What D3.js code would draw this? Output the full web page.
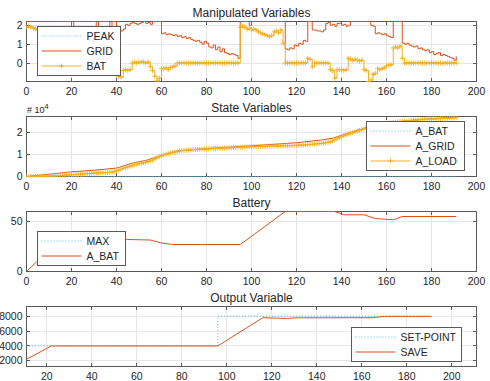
<!DOCTYPE html>
<html>
<head>
<meta charset="utf-8">
<script src="https://cdn.jsdelivr.net/npm/d3@7"></script>
<style>
  body { margin: 0; background: #fff; }
  text { font-family: "Liberation Sans", Arial, sans-serif; fill: #262626; }
</style>
</head>
<body>
<script>
// samples 0..191
const time = d3.range(0, 192);

// Manipulated Variables
const peakT = [0, 191];
const peak = [2.2, 2.2];
const gridP = [
  2.2, 2.2, 2.2, 2.2, 2.2, 2.2, 2.2, 2.2, 2.2, 2.2,
  2.2, 2.2, 2.2, 2.2, 2.2, 2.2, 2.2, 2.2, 2.2, 2.2,
  1.6, 2.2, 2.2, 2.2, 2.2, 2.2, 2.2, 2.2, 2.2, 2.2,
  2.2, 1.7, 2.2, 2.2, 2.2, 2.2, 2.2, 1.8, 2.2, 2.2,
  1.95, 1.75, 1.7, 1.8, 2.05, 2.0, 2.1, 2.15, 2.1, 2.05,
  2.1, 2.15, 2.2, 2.1, 2.15, 2.05, 2.2, 2.2, 2.2, 2.2,
  1.55, 1.6, 1.5, 1.55, 1.5, 1.45, 1.5, 1.4, 1.45, 1.35,
  1.4, 1.3, 1.35, 1.25, 1.2, 1.15, 1.2, 1.1, 1.0, 1.15,
  1.05, 0.85, 0.8, 0.95, 0.7, 0.85, 0.6, 0.75, 0.55, 0.5,
  0.45, 0.5, 0.45, 0.4, 0.25, 2.2, 2.2, 2.2, 2.2, 2.0,
  2.2, 2.2, 2.2, 2.2, 2.2, 2.2, 2.2, 2.2, 2.2, 2.2,
  2.2, 2.2, 2.2, 2.2, 2.2, 0.75, 0.7, 0.8, 0.75, 0.95,
  0.9, 1.05, 1.0, 1.2, 1.15, 2.2, 2.2, 1.75, 1.75, 1.7,
  1.7, 1.65, 1.75, 2.1, 2.15, 2.0, 2.05, 1.95, 2.1, 2.1,
  2.0, 2.05, 1.95, 2.0, 2.2, 2.2, 2.2, 2.2, 2.2, 2.2,
  2.2, 2.2, 2.2, 2.0, 1.95, 1.55, 1.6, 1.55, 1.5, 1.55,
  1.45, 1.4, 1.35, 2.2, 2.2, 2.2, 2.2, 1.05, 1.0, 1.05,
  0.95, 0.9, 0.85, 0.9, 0.75, 0.8, 0.7, 0.65, 0.7, 0.55,
  0.6, 0.45, 0.5, 0.55, 0.4, 0.45, 0.4, 0.35, 0.3, 0.25,
  0.15, 0.35
];
const batP = [
  1.9, 1.95, 1.9, 1.85, 1.8, 1.8, 1.75, 1.7, 1.7, 1.6,
  1.5, 1.45, 1.4, 1.3, 1.2, 1.1, 1.0, 0.9, 0.8, 0.7,
  1.2, 0.6, 0.5, 0.45, 0.4, 0.3, 0.25, 0.2, 0.1, 0.05,
  0.0, 0.5, -0.1, -0.15, -0.2, -0.25, -0.3, 0.2, -0.4, -0.45,
  -0.5, -0.72, -0.75, -0.4, -0.35, -0.4, -0.35, 0.0, 0.05, 0.0,
  0.05, 0.05, 0.05, 0.0, 0.05, -0.2, -0.4, -0.7, -0.95, -0.8,
  -0.3, -0.3, -0.25, -0.35, -0.25, -0.2, -0.15, 0, 0, 0,
  0, 0, 0, 0, 0, 0, 0, 0, 0, 0,
  0, 0, 0, 0, 0, 0, 0, 0, 0, 0,
  0, 0, 0, 0, 0, 1.9, 1.95, 1.9, 1.8, 1.85,
  1.75, 1.8, 1.75, 1.65, 1.6, 1.55, 1.5, 1.45, 1.4, 1.45,
  1.65, 1.7, 1.6, 1.75, 1.05, 0, 0, 0, 0, 0,
  0, 0, 0, 0, 0, 0.25, 0.2, -0.2, 0, 0,
  0, 0, 0, 0, 0, -0.35, -0.4, -0.8, -0.35, -0.35,
  -0.35, -0.4, -0.35, 0.25, 0.2, 0.15, 0.2, 0.15, 0.1, 0.15,
  -0.35, -0.4, -0.98, -0.9, -0.6, -0.55, -0.3, -0.35, -0.3, -0.25,
  -0.15, -0.1, -0.1, 0.8, 0.85, 0.8, 0.9, 0.25, 0, 0,
  0, 0, 0, 0, 0, 0, 0, 0, 0, 0,
  0, 0, 0, 0, 0, 0, 0, 0, 0, 0,
  0, 0
];

// State Variables, in units of 10^4
const aLoad = [
  0, 0.002, 0.004, 0.006, 0.008, 0.01, 0.012, 0.014, 0.016, 0.018,
  0.02, 0.025, 0.03, 0.035, 0.04, 0.045, 0.05, 0.06, 0.07, 0.075,
  0.08, 0.085, 0.09, 0.1, 0.105, 0.11, 0.12, 0.13, 0.135, 0.14,
  0.15, 0.155, 0.16, 0.165, 0.17, 0.175, 0.18, 0.19, 0.2, 0.22,
  0.25, 0.29, 0.33, 0.37, 0.4, 0.43, 0.46, 0.49, 0.52, 0.55,
  0.58, 0.6, 0.62, 0.64, 0.67, 0.7, 0.74, 0.79, 0.84, 0.89,
  0.93, 0.97, 1.0, 1.03, 1.06, 1.08, 1.1, 1.12, 1.14, 1.16,
  1.17, 1.18, 1.19, 1.2, 1.21, 1.215, 1.22, 1.225, 1.23, 1.235,
  1.24, 1.245, 1.25, 1.255, 1.26, 1.265, 1.27, 1.275, 1.28, 1.285,
  1.29, 1.295, 1.3, 1.305, 1.31, 1.315, 1.32, 1.325, 1.33, 1.335,
  1.34, 1.343, 1.346, 1.349, 1.352, 1.355, 1.358, 1.361, 1.364, 1.367,
  1.37, 1.373, 1.376, 1.379, 1.382, 1.385, 1.388, 1.391, 1.394, 1.397,
  1.4, 1.407, 1.414, 1.421, 1.428, 1.435, 1.442, 1.451, 1.461, 1.47,
  1.48, 1.49, 1.5, 1.52, 1.54, 1.56, 1.6, 1.65, 1.7, 1.75,
  1.79, 1.83, 1.87, 1.91, 1.95, 1.98, 2.01, 2.04, 2.08, 2.11,
  2.14, 2.17, 2.2, 2.23, 2.26, 2.28, 2.3, 2.32, 2.34, 2.36,
  2.38, 2.4, 2.42, 2.44, 2.45, 2.46, 2.47, 2.48, 2.49, 2.5,
  2.51, 2.52, 2.53, 2.54, 2.55, 2.56, 2.565, 2.57, 2.575, 2.58,
  2.585, 2.59, 2.595, 2.6, 2.605, 2.61, 2.615, 2.62, 2.625, 2.63,
  2.635, 2.64
];
const aGridT = [0, 10, 20, 30, 40, 48, 53, 60, 67, 80, 100, 120, 131, 136, 140, 150, 160, 170, 180, 191];
const aGrid = [0, 0.1, 0.21, 0.28, 0.38, 0.63, 0.72, 0.95, 1.15, 1.26, 1.38, 1.52, 1.64, 1.72, 1.85, 2.17, 2.4, 2.52, 2.6, 2.68];

// Battery
const batT = [0, 5, 16, 40, 45, 55, 60, 65, 95, 115, 137, 141, 150, 155, 163, 167, 191];
const batLevel = [0, 10.7, 34, 34, 32, 31.5, 28.5, 27, 27, 60, 60, 56.7, 56.7, 53, 51.7, 55, 55];
const maxT = [0, 191];
const maxLevel = [60, 60];

// Output Variable
const setPointT = [0, 96, 191];
const setPoint = [4000, 8000, 8000];
const saveT = [0, 22, 96, 116, 127, 130, 165, 170, 191];
const save = [400, 4000, 4000, 7790, 7700, 7780, 7800, 7980, 7980];

const BLUE = '#4DBEEE', RED = '#D95319', YEL = '#EDB120';

const width = 490, height = 381;
const left = 26.5, right = 476.5, plotH = 60;

let svg = d3.select('body').append('svg')
    .attr('width', width)
    .attr('height', height);

function px(v) { return Math.round(v - 0.5) + 0.5; }

// one axes box like matlab subplot
function makeAxes(cfg, id) {
    let x = d3.scaleLinear().domain(cfg.xDomain).range([left, right]);
    let y = d3.scaleLinear().domain(cfg.yDomain).range([cfg.top + plotH, cfg.top]);
    let g = svg.append('g');
    let bottom = cfg.top + plotH;

    svg.append('clipPath').attr('id', id)
        .append('rect')
        .attr('x', left).attr('y', cfg.top - 1)
        .attr('width', right - left).attr('height', plotH + 2);

    // grid
    g.append('g').selectAll('line').data(cfg.xTicks).join('line')
        .attr('x1', d => px(x(d))).attr('x2', d => px(x(d)))
        .attr('y1', cfg.top).attr('y2', bottom)
        .attr('stroke', '#e6e6e6');
    g.append('g').selectAll('line').data(cfg.yTicks).join('line')
        .attr('x1', left).attr('x2', right)
        .attr('y1', d => px(y(d))).attr('y2', d => px(y(d)))
        .attr('stroke', '#e6e6e6');

    let under = g.append('g').attr('clip-path', `url(#${id})`);

    g.append('rect')
        .attr('x', left).attr('y', cfg.top)
        .attr('width', right - left).attr('height', plotH)
        .attr('fill', 'none').attr('stroke', '#5a5a5a');

    // ticks inside, all four sides
    let tk = g.append('g').attr('stroke', '#5a5a5a');
    cfg.xTicks.forEach(d => {
        tk.append('line').attr('x1', px(x(d))).attr('x2', px(x(d))).attr('y1', bottom).attr('y2', bottom - 3.5);
        tk.append('line').attr('x1', px(x(d))).attr('x2', px(x(d))).attr('y1', cfg.top).attr('y2', cfg.top + 3.5);
    });
    cfg.yTicks.forEach(d => {
        tk.append('line').attr('y1', px(y(d))).attr('y2', px(y(d))).attr('x1', left).attr('x2', left + 3.5);
        tk.append('line').attr('y1', px(y(d))).attr('y2', px(y(d))).attr('x1', right).attr('x2', right - 3.5);
    });

    let data = g.append('g').attr('clip-path', `url(#${id})`);

    g.append('g').selectAll('text').data(cfg.xTicks).join('text')
        .attr('x', d => x(d)).attr('y', bottom + 13.5)
        .attr('text-anchor', 'middle').attr('font-size', '10.5px')
        .text(d => d);
    g.append('g').selectAll('text').data(cfg.yTicks).join('text')
        .attr('x', left - 4).attr('y', d => y(d)).attr('dy', '0.35em')
        .attr('text-anchor', 'end').attr('font-size', '10.5px')
        .text(d => d);

    g.append('text')
        .attr('x', (left + right) / 2).attr('y', cfg.top - 5)
        .attr('text-anchor', 'middle').attr('font-size', '12px')
        .text(cfg.title);

    return {x, y, under, data};
}

function plus(cx, cy, r) {
    return `M${cx - r},${cy}h${2 * r}M${cx},${cy - r}v${2 * r}`;
}

function series(layer, ax, ts, vs, o) {
    let line = d3.line()
        .x((d, i) => ax.x(ts[i]))
        .y(d => ax.y(d))
        .curve(o.step ? d3.curveStepAfter : d3.curveLinear);
    layer.append('path').datum(vs)
        .attr('d', line)
        .attr('fill', 'none')
        .attr('stroke', o.color)
        .attr('stroke-width', 1)
        .attr('stroke-dasharray', o.dotted ? '1,2' : null);
    if (o.marker) {
        layer.append('path')
            .attr('d', vs.map((d, i) => plus(ax.x(ts[i]), ax.y(d), 2.5)).join(''))
            .attr('fill', 'none')
            .attr('stroke', o.color)
            .attr('stroke-width', 0.9);
    }
}

function legend(box, items) {
    let lg = svg.append('g');
    lg.append('rect')
        .attr('x', box.x).attr('y', box.y)
        .attr('width', box.w).attr('height', 15 * items.length + 4)
        .attr('fill', '#fff').attr('stroke', '#5a5a5a');
    items.forEach((it, i) => {
        let cy = box.y + 9.5 + i * 15;
        lg.append('line')
            .attr('x1', box.x + 4).attr('x2', box.x + 44)
            .attr('y1', cy).attr('y2', cy)
            .attr('stroke', it.color)
            .attr('stroke-dasharray', it.dotted ? '1,2' : null);
        if (it.marker) {
            lg.append('path').attr('d', plus(box.x + 24, cy, 2.5))
                .attr('stroke', it.color).attr('stroke-width', 0.9);
        }
        lg.append('text')
            .attr('x', box.x + 49).attr('y', cy).attr('dy', '0.36em')
            .attr('font-size', '10.5px')
            .text(it.name);
    });
}

const xt = d3.range(0, 201, 20);

// 1 - Manipulated Variables
let ax1 = makeAxes({top: 21.5, title: 'Manipulated Variables', xDomain: [0, 200], yDomain: [-0.98, 2.2], xTicks: xt, yTicks: [0, 1, 2]}, 'c1');
series(ax1.under, ax1, peakT, peak, {color: BLUE, dotted: true});
series(ax1.data, ax1, time, gridP, {color: RED, step: true});
series(ax1.data, ax1, time, batP, {color: YEL, step: true, marker: true});
legend({x: 37.5, y: 26.5, w: 83}, [
    {name: 'PEAK', color: BLUE, dotted: true},
    {name: 'GRID', color: RED},
    {name: 'BAT', color: YEL, marker: true}
]);

// 2 - State Variables
let ax2 = makeAxes({top: 116.5, title: 'State Variables', xDomain: [0, 200], yDomain: [0, 2.7], xTicks: xt, yTicks: [0, 1, 2]}, 'c2');
series(ax2.data, ax2, batT, batLevel.map(v => v / 1e4), {color: BLUE, dotted: true});
series(ax2.data, ax2, aGridT, aGrid, {color: RED});
series(ax2.data, ax2, time, aLoad, {color: YEL, marker: true});
let exp = svg.append('text').attr('x', 27).attr('y', 113).attr('font-size', '9px');
exp.append('tspan').text('# 10');
exp.append('tspan').attr('dy', -4).attr('font-size', '7.5px').text('4');
legend({x: 366.5, y: 121.5, w: 98}, [
    {name: 'A_BAT', color: BLUE, dotted: true},
    {name: 'A_GRID', color: RED},
    {name: 'A_LOAD', color: YEL, marker: true}
]);

// 3 - Battery
let ax3 = makeAxes({top: 211.5, title: 'Battery', xDomain: [0, 200], yDomain: [0, 60], xTicks: xt, yTicks: [0, 50]}, 'c3');
series(ax3.under, ax3, maxT, maxLevel, {color: BLUE, dotted: true});
series(ax3.data, ax3, batT, batLevel, {color: RED});
legend({x: 37.5, y: 231.5, w: 88}, [
    {name: 'MAX', color: BLUE, dotted: true},
    {name: 'A_BAT', color: RED}
]);

// 4 - Output Variable
let ax4 = makeAxes({top: 306.5, title: 'Output Variable', xDomain: [11, 211], yDomain: [1235, 9305], xTicks: d3.range(20, 201, 20), yTicks: [2000, 4000, 6000, 8000]}, 'c4');
series(ax4.data, ax4, setPointT, setPoint, {color: BLUE, dotted: true, step: true});
series(ax4.data, ax4, saveT, save, {color: RED});
legend({x: 351.5, y: 327.5, w: 110}, [
    {name: 'SET-POINT', color: BLUE, dotted: true},
    {name: 'SAVE', color: RED}
]);
</script>
</body>
</html>
